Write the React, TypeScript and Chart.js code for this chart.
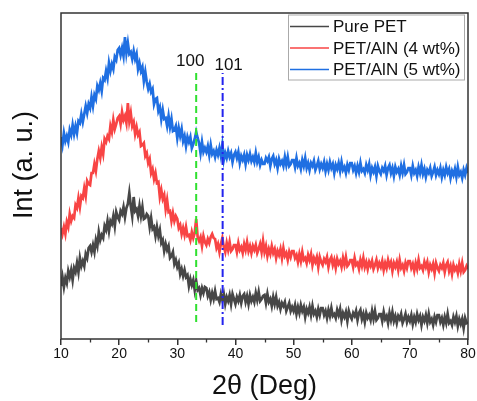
import React, { useEffect, useRef } from 'react';
import { Chart, registerables } from 'chart.js';

Chart.register(...registerables);

// ---- data -------------------------------------------------------------
// 2θ sampling grid: 10° .. 80°, 0.25° step (281 points)
const twoThetaStart = 10;
const twoThetaStep = 0.25;

const xMajorTicks = [10, 20, 30, 40, 50, 60, 70, 80];
const xMinorTicks = [15, 25, 35, 45, 55, 65, 75];

const seriesLabels = ['Pure PET', 'PET/AlN (4 wt%)', 'PET/AlN (5 wt%)'];
const seriesColors = ['#474747', '#f84444', '#1f6fe2'];

const xTitle = '2θ (Deg)';
const yTitle = 'Int (a. u.)';

// intensities (a.u., curves offset vertically)
const purePET = [
  53,62,52,61,56,68,62,69,59,71,67,76,67,81,73,78,73,85,81,91,
  93,87,94,87,99,93,107,99,104,101,113,109,118,108,118,115,123,113,127,122,
  119,128,125,132,122,131,135,146,133,123,142,128,130,123,133,123,132,120,121,125,
  123,112,121,110,112,103,112,103,109,96,99,88,95,89,93,81,83,87,75,79,
  72,76,65,70,63,69,62,64,53,60,54,59,49,58,49,51,44,51,46,52,
  51,43,47,39,46,40,48,40,41,37,45,39,45,35,42,38,44,35,45,40,
  35,42,38,44,36,43,45,37,43,35,44,38,42,37,46,39,47,38,40,43,
  44,36,45,37,40,33,42,35,42,33,37,30,36,33,37,28,32,36,28,32,
  28,34,25,32,26,34,28,32,22,30,26,32,24,33,25,28,22,30,24,31,
  31,24,28,21,29,23,31,23,25,21,29,24,30,19,26,22,27,18,28,23,
  20,26,23,28,19,26,29,20,25,17,26,21,24,19,28,20,28,19,21,25,
  25,18,27,20,23,16,26,19,27,18,23,16,23,20,25,16,20,25,17,22,
  18,24,15,22,17,25,19,23,14,22,18,24,16,25,17,20,14,22,17,24,
  24,17,21,14,22,16,25,16,18,14,22,17,23,13,20,15,20,11,21,16,
  17,
];

const petAlN4 = [
  111,105,112,105,117,112,125,118,123,121,134,131,141,132,143,141,151,143,158,155,
  154,166,166,175,168,180,188,181,192,185,200,197,203,200,213,207,219,210,215,221,
  223,215,227,219,223,216,236,218,226,213,217,205,212,204,207,193,194,196,183,186,
  176,180,166,170,160,166,156,157,142,149,140,144,130,139,127,128,118,126,118,123,
  120,111,114,105,111,104,112,103,104,99,107,101,106,120,102,98,102,93,103,97,
  94,100,96,102,105,101,100,91,95,87,95,101,92,87,96,89,97,88,90,94,
  94,87,96,89,92,86,95,89,97,88,93,86,93,89,94,86,90,95,87,98,
  87,93,83,90,85,93,86,90,81,88,84,90,81,91,83,86,79,87,82,88,
  88,81,84,77,85,78,87,79,81,76,84,79,85,74,81,77,82,72,82,77,
  74,80,77,82,72,79,82,74,79,71,80,75,78,72,81,74,82,73,75,79,
  79,72,81,74,76,70,79,73,81,72,77,70,77,73,78,70,74,79,71,76,
  72,78,69,76,71,79,73,77,68,76,72,77,69,79,71,74,68,76,71,78,
  78,71,75,68,76,70,79,71,73,69,77,72,77,67,74,70,75,66,76,71,
  68,74,71,76,67,74,77,68,73,65,74,69,72,66,75,68,76,67,69,73,
  70,
];

const petAlN5 = [
  202,194,206,198,203,197,209,204,214,205,213,206,218,216,225,217,225,233,226,235,
  231,242,233,244,240,253,249,256,248,261,259,268,261,276,268,275,270,282,279,289,
  291,284,291,283,302,286,296,285,287,280,288,280,285,270,276,268,272,258,267,257,
  250,255,247,250,235,240,241,228,232,220,229,220,221,213,223,212,220,208,209,213,
  201,211,203,210,198,203,193,202,197,202,191,195,200,207,201,196,186,197,187,191,
  187,193,184,194,185,188,182,189,184,191,183,194,179,186,181,188,182,186,177,184,
  187,181,187,176,183,179,184,175,184,179,185,178,182,177,186,177,182,174,179,175,
  175,181,178,182,173,180,183,175,179,171,180,175,178,173,182,174,182,173,175,179,
  179,172,181,173,176,170,179,173,181,171,176,169,176,173,178,169,173,178,170,175,
  171,177,168,175,169,177,171,175,166,174,170,176,168,177,169,172,166,174,169,176,
  176,169,173,166,173,167,176,168,170,166,174,169,175,164,171,167,172,163,173,168,
  165,171,168,173,164,171,174,166,171,163,172,167,170,164,173,166,174,165,167,171,
  171,164,173,166,169,163,172,166,174,165,170,162,169,166,171,163,167,172,164,169,
  165,171,162,169,164,172,166,170,161,168,164,170,162,172,164,167,161,169,164,171,
  166,
];

// reference reflection markers (AlN 100 / 101)
const refLineX = [33.25, 37.8];
const refLineLabels = ['100', '101'];
const refLineYRange = [
  [17, 270],
  [14, 266],
];
const refLineColors = ['#2fe02f', '#2323ee'];
const refLineDashes = [
  [7, 4],
  [8, 3, 2, 3],
];

const yMin = 0;
const yMax = 326;

// ---- chart ------------------------------------------------------------
const FONT = '"Liberation Sans", Arial, Helvetica, sans-serif';

const decorPlugin = {
  id: 'decor',
  afterDatasetsDraw(chart: any) {
    const { ctx, chartArea: a, scales } = chart;
    const xs = scales.x;
    const ys = scales.y;
    ctx.save();
    // frame
    ctx.strokeStyle = '#333';
    ctx.lineWidth = 1.5;
    ctx.strokeRect(a.left, a.top, a.right - a.left, a.bottom - a.top);
    // minor ticks
    ctx.lineWidth = 1.3;
    xMinorTicks.forEach((v) => {
      const px = Math.round(xs.getPixelForValue(v)) + 0.5;
      ctx.beginPath();
      ctx.moveTo(px, a.bottom);
      ctx.lineTo(px, a.bottom + 3.5);
      ctx.stroke();
    });
    // y title
    ctx.save();
    ctx.translate(25, a.top + (a.bottom - a.top) * 0.466);
    ctx.rotate(-Math.PI / 2);
    ctx.font = `27px ${FONT}`;
    ctx.fillStyle = '#111';
    ctx.textAlign = 'center';
    ctx.textBaseline = 'middle';
    ctx.fillText(yTitle, 0, 0);
    ctx.restore();
    // reflection labels
    ctx.font = `17px ${FONT}`;
    ctx.fillStyle = '#111';
    ctx.textAlign = 'center';
    ctx.textBaseline = 'middle';
    refLineLabels.forEach((lab, i) => {
      const px = xs.getPixelForValue(refLineX[i]);
      const py = ys.getPixelForValue(refLineYRange[i][1]);
      const dx = i === 0 ? -6 : 6;
      ctx.fillText(lab, px + dx, py - 8);
    });
    // legend box
    const bx = a.right - 180;
    const by = a.top + 1.5;
    const bw = 176;
    const bh = 65;
    ctx.fillStyle = '#fff';
    ctx.fillRect(bx, by, bw, bh);
    ctx.strokeStyle = '#aaa';
    ctx.lineWidth = 1;
    ctx.strokeRect(bx + 0.5, by + 0.5, bw, bh);
    ctx.font = `17px ${FONT}`;
    ctx.textAlign = 'left';
    seriesLabels.forEach((lab, i) => {
      const cy = by + 12 + i * 21.5;
      ctx.strokeStyle = seriesColors[i];
      ctx.lineWidth = 1.5;
      ctx.beginPath();
      ctx.moveTo(bx + 2, cy);
      ctx.lineTo(bx + 41, cy);
      ctx.stroke();
      ctx.fillStyle = '#111';
      ctx.fillText(lab, bx + 45, cy + 1);
    });
    ctx.restore();
  },
};

export default function App() {
  const canvasRef = useRef<HTMLCanvasElement | null>(null);

  useEffect(() => {
    document.body.style.margin = '0';
    const canvas = canvasRef.current;
    if (!canvas) return;

    const twoTheta = purePET.map((_, i) => twoThetaStart + i * twoThetaStep);
    const toPts = (arr: number[]) => arr.map((y, i) => ({ x: twoTheta[i], y }));

    const refSets = refLineX.map((x, i) => ({
      label: refLineLabels[i],
      data: [
        { x, y: refLineYRange[i][0] },
        { x, y: refLineYRange[i][1] },
      ],
      borderColor: refLineColors[i],
      borderWidth: 2,
      borderDash: refLineDashes[i],
      pointRadius: 0,
      fill: false,
    }));

    const seriesData = [purePET, petAlN4, petAlN5];
    const seriesSets = seriesData.map((arr, i) => ({
      label: seriesLabels[i],
      data: toPts(arr),
      borderColor: seriesColors[i],
      borderWidth: 2.7,
      borderJoinStyle: 'miter',
      pointRadius: 0,
      tension: 0,
      fill: false,
    }));

    const chart = new Chart(canvas, {
      type: 'line',
      data: { datasets: [...refSets, ...seriesSets] as any },
      options: {
        animation: false,
        responsive: true,
        maintainAspectRatio: false,
        devicePixelRatio: 1,
        layout: { padding: { top: 13, right: 9, left: 0, bottom: 0 } },
        plugins: {
          legend: { display: false },
          tooltip: { enabled: false },
          title: { display: false },
        },
        scales: {
          x: {
            type: 'linear',
            min: 10,
            max: 80,
            afterFit: (s: any) => {
              s.height = 62;
            },
            afterBuildTicks: (s: any) => {
              s.ticks = xMajorTicks.map((v) => ({ value: v }));
            },
            ticks: {
              color: '#111',
              font: { size: 14, family: FONT },
              padding: 1,
              maxRotation: 0,
              autoSkip: false,
            },
            grid: {
              display: true,
              drawOnChartArea: false,
              drawTicks: true,
              tickLength: 6,
              color: '#333',
              lineWidth: 1.5,
            },
            border: { display: false },
            title: {
              display: true,
              text: xTitle,
              color: '#111',
              font: { size: 27, family: FONT, lineHeight: 1.1 },
              padding: { top: 0, bottom: 0 },
            },
          },
          y: {
            type: 'linear',
            min: yMin,
            max: yMax,
            afterFit: (s: any) => {
              s.width = 61;
            },
            ticks: { display: false },
            grid: { display: false },
            border: { display: false },
            title: { display: false },
          },
        },
      },
      plugins: [decorPlugin],
    });

    return () => chart.destroy();
  }, []);

  return (
    <div style={{ width: 477, height: 401, position: 'relative' }}>
      <canvas ref={canvasRef} />
    </div>
  );
}
